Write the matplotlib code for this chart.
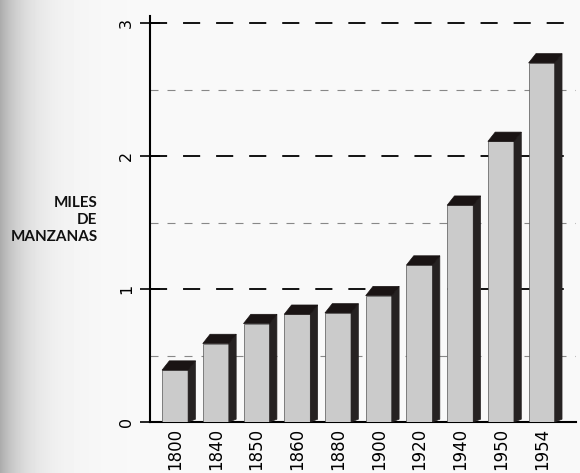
import matplotlib
matplotlib.use('Agg')
import matplotlib.pyplot as plt
from matplotlib.patches import Polygon
import numpy as np

years = ['1800', '1840', '1850', '1860', '1880', '1900', '1920', '1940', '1950', '1954']
apples = [0.39, 0.59, 0.74, 0.81, 0.82, 0.95, 1.18, 1.63, 2.11, 2.70]  # miles de manzanas
y_ticks = [0, 1, 2, 3]
y_minor = [0.5, 1.5, 2.5]

fig = plt.figure(figsize=(5.8, 4.73), dpi=100)

# scan shadow on the left edge of the page
bg = fig.add_axes([0, 0, 1, 1], zorder=-5)
xs = np.linspace(0, 1, 580)
shade = 0.975 - 0.3 * np.exp(-xs / 0.045)
bg.imshow(np.tile(shade, (10, 1)), cmap='gray', vmin=0, vmax=1, aspect='auto',
          extent=[0, 1, 0, 1])
bg.axis('off')

ax = fig.add_axes([0.2586, 0.1078, 0.735, 0.8575])
ax.patch.set_alpha(0)

x = np.arange(len(years))
w = 0.64
dx, dy = 0.18, 0.07

# grid lines
for v in y_ticks[1:]:
    ax.axhline(v, color='#111111', lw=1.4, dashes=(8.8, 8.2), zorder=1)
for v in y_minor:
    ax.axhline(v, color='#888888', lw=0.8, dashes=(7.2, 8.1), zorder=1)

ax.bar(x, apples, width=w, color='#cbcbcb', edgecolor='#555555', lw=0.5, zorder=3)
for xi, h in zip(x, apples):
    l, r = xi - w / 2, xi + w / 2
    side = Polygon([(r, 0), (r + dx, dy * 0.3), (r + dx, h + dy), (r, h)],
                   closed=True, fc='#262222', ec='#262222', lw=0.5, zorder=3)
    top = Polygon([(l, h), (l + dx, h + dy), (r + dx, h + dy), (r, h)],
                  closed=True, fc='#1a1414', ec='#1a1414', lw=0.5, zorder=4)
    ax.add_patch(side)
    ax.add_patch(top)

ax.set_xlim(-0.616, 9.85)
ax.set_ylim(0, 3.05)
ax.set_xticks(x)
ax.set_xticklabels(years, rotation=90, fontsize=12, family='DejaVu Sans')
ax.tick_params(axis='x', length=0, pad=4)
ax.set_yticks(y_ticks)
ax.set_yticklabels([str(v) for v in y_ticks], rotation=90, va='center',
                   fontsize=11.5, family='DejaVu Sans')
ax.tick_params(axis='y', direction='inout', length=15, width=1.2, pad=4)

for s in ['top', 'right']:
    ax.spines[s].set_visible(False)
ax.spines['left'].set_linewidth(1.5)
ax.spines['bottom'].set_linewidth(1.5)

fig.text(0.168, 0.535, 'MILES\nDE\nMANZANAS', ha='right', va='center',
         fontsize=11, family='Lato', weight='bold', linespacing=1.3,
         color='#111111')

fig.savefig('out.png', dpi=100)
